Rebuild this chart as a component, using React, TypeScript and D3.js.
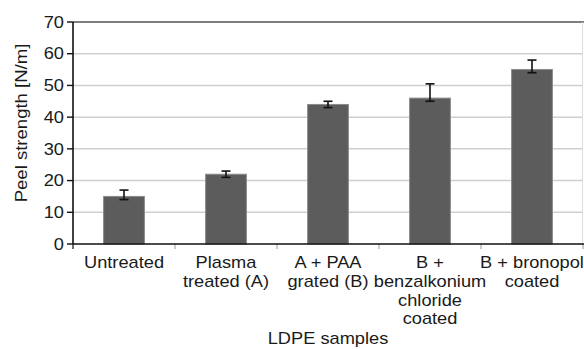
import React from "react";
import * as d3 from "d3";

// Peel strength of LDPE samples with error bars
const categories = [
  "Untreated",
  "Plasma|treated (A)",
  "A + PAA|grated (B)",
  "B +|benzalkonium|chloride|coated",
  "B + bronopol|coated",
];
const peelStrength = [15, 22, 44, 46, 55];
const errHigh = [17, 23, 45, 50.5, 58];
const errLow = [14, 21, 43, 45, 54];
const yTicks = [0, 10, 20, 30, 40, 50, 60, 70];

const W = 584;
const H = 349;
const FONT = "'Liberation Sans', Arial, sans-serif";
const SX = 1.14;

export default function App() {
  const x = d3
    .scaleBand<string>()
    .domain(categories)
    .range([73, 583])
    .paddingInner(0.6)
    .paddingOuter(0.3);
  const y = d3.scaleLinear().domain([0, 70]).range([244, 22]);
  const step = x.step();
  const x0 = 73;

  return (
    <svg
      width={W}
      height={H}
      style={{ position: "absolute", left: 0, top: 0, background: "#fff" }}
      fontFamily={FONT}
    >
      {/* gridlines */}
      {yTicks.slice(1, -1).map((t) => (
        <line key={t} x1={x0} x2={583} y1={y(t)} y2={y(t)} stroke="#cfcfcf" strokeWidth={1.5} />
      ))}
      <line x1={x0} x2={584} y1={y(70)} y2={y(70)} stroke="#555" strokeWidth={1.5} />
      <line x1={582.5} x2={582.5} y1={y(70)} y2={y(0)} stroke="#ddd" strokeWidth={1} />

      {/* bars */}
      {categories.map((c, i) => (
        <rect
          key={c}
          x={x(c)!}
          y={y(peelStrength[i])}
          width={x.bandwidth()}
          height={y(0) - y(peelStrength[i])}
          fill="#5c5c5c"
          stroke="#8a8a8a"
          strokeWidth={1}
        />
      ))}

      {/* error bars */}
      {categories.map((c, i) => {
        const cx = x(c)! + x.bandwidth() / 2;
        return (
          <g key={c} stroke="#111" strokeWidth={1.6}>
            <line x1={cx} x2={cx} y1={y(errHigh[i])} y2={y(errLow[i])} />
            <line x1={cx - 4.5} x2={cx + 4.5} y1={y(errHigh[i])} y2={y(errHigh[i])} />
            <line x1={cx - 4.5} x2={cx + 4.5} y1={y(errLow[i])} y2={y(errLow[i])} />
          </g>
        );
      })}

      {/* x axis */}
      {d3.range(categories.length + 1).map((k) => (
        <line
          key={k}
          x1={x0 + k * step}
          x2={x0 + k * step}
          y1={y(0)}
          y2={y(0) + 5}
          stroke={k === 0 ? "#111" : "#aaa"}
          strokeWidth={1.2}
        />
      ))}
      <line x1={x0} x2={584} y1={y(0)} y2={y(0)} stroke="#111" strokeWidth={1.6} />

      {/* y axis */}
      <line x1={x0} x2={x0} y1={y(70)} y2={y(0)} stroke="#111" strokeWidth={1.6} />
      {yTicks.map((t) => (
        <g key={t}>
          <line x1={x0 - 6} x2={x0} y1={y(t)} y2={y(t)} stroke="#111" strokeWidth={1.4} />
          <text
            transform={`translate(64,${y(t)}) scale(${SX},1)`}
            dy="0.36em"
            textAnchor="end"
            fontSize={16}
            fill="#1a1a1a"
          >
            {t}
          </text>
        </g>
      ))}

      {/* category labels */}
      {categories.map((c) => {
        const cx = x(c)! + x.bandwidth() / 2;
        return (
          <text
            key={c}
            transform={`translate(${cx},268) scale(${SX},1)`}
            textAnchor="middle"
            fontSize={16}
            fill="#1a1a1a"
          >
            {c.split("|").map((line, j) => (
              <tspan key={j} x={0} y={j * 18.8}>
                {line}
              </tspan>
            ))}
          </text>
        );
      })}

      {/* axis titles */}
      <text
        transform={`translate(${x0 + 255},344) scale(${SX},1)`}
        textAnchor="middle"
        fontSize={16}
        fill="#1a1a1a"
      >
        LDPE samples
      </text>
      <text
        transform={`translate(27,123) rotate(-90) scale(1.16,1)`}
        textAnchor="middle"
        fontSize={16}
        fill="#1a1a1a"
      >
        Peel strength [N/m]
      </text>
    </svg>
  );
}
